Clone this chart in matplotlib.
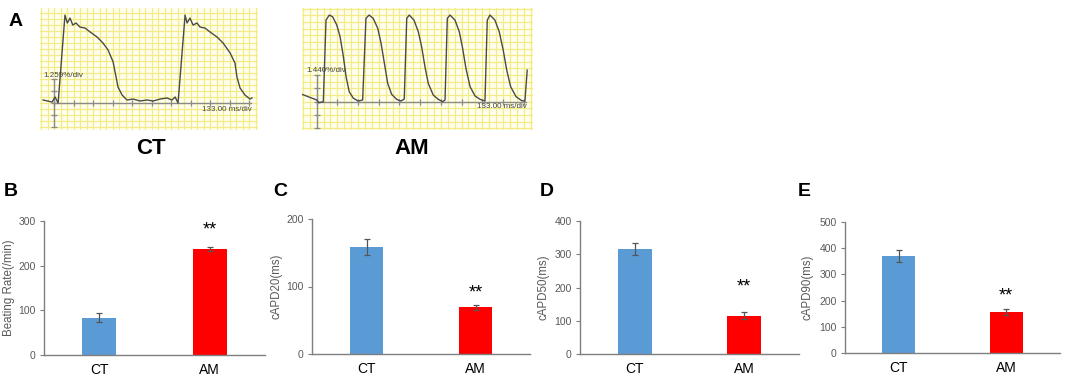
import numpy as np
import matplotlib.pyplot as plt

plt.rcParams['font.family'] = ['Liberation Sans', 'DejaVu Sans']

W, H = 1065, 377

groups = ['CT', 'AM']
bar_colors = ['#5B9BD5', '#FF0000']

beating_rate = [83, 237]
beating_rate_err = [10, 5]
capd20 = [159, 69]
capd20_err = [12, 4]
capd50 = [316, 115]
capd50_err = [17, 11]
capd90 = [370, 156]
capd90_err = [22, 11]
star_heights = [270, 84, 187, 202]

# optical traces, in divisions (x: 133 ms/div, y: %/div)
ct_t = [-0.56, -0.10, 0.05, 0.21, 0.56, 0.68, 0.82, 0.96, 1.13, 1.33, 1.59, 1.85,
        2.21, 2.51, 2.77, 3.03, 3.18, 3.28, 3.49, 3.74, 4.05, 4.41, 4.77, 5.08,
        5.44, 5.79, 6.05, 6.21, 6.36, 6.72, 6.82, 6.97, 7.13, 7.33, 7.49, 7.74,
        8.00, 8.36, 8.67, 9.03, 9.28, 9.38, 9.54, 9.79, 10.05, 10.15]
ct_v = [0.25, 0.08, 0.50, 0.00, 7.33, 6.67, 7.08, 6.50, 6.67, 6.33, 6.25, 5.92,
        5.50, 5.00, 4.42, 3.42, 2.17, 1.33, 0.67, 0.25, 0.33, 0.17, 0.25, 0.17,
        0.33, 0.42, 0.25, 0.50, 0.00, 7.33, 6.67, 7.08, 6.50, 6.67, 6.33, 6.25,
        5.92, 5.50, 5.00, 4.17, 3.33, 2.17, 1.25, 0.67, 0.33, 0.42]

am_t = [-0.72, 0.00, 0.11, 0.32, 0.45, 0.61, 0.77, 0.97, 1.13, 1.29, 1.42, 1.57,
        1.77, 2.01, 2.22, 2.38, 2.53, 2.73, 2.95, 3.11, 3.27, 3.43, 3.62, 3.86,
        4.07, 4.23, 4.35, 4.47, 4.70, 4.91, 5.07, 5.23, 5.39, 5.63, 5.87, 6.09,
        6.20, 6.31, 6.44, 6.68, 6.89, 7.05, 7.21, 7.41, 7.65, 7.89, 8.13, 8.24,
        8.37, 8.61, 8.82, 9.01, 9.18, 9.37, 9.63, 9.90, 10.06, 10.17]
am_v = [0.56, 0.13, -0.08, 0.00, 6.14, 6.52, 6.39, 5.77, 4.89, 3.38, 1.88, 0.75,
        0.26, 0.05, 0.13, 6.27, 6.52, 6.27, 5.52, 4.39, 2.89, 1.38, 0.56, 0.18,
        0.05, 0.20, 6.27, 6.52, 6.14, 5.26, 4.14, 2.63, 1.38, 0.50, 0.18, 0.00,
        0.13, 6.27, 6.52, 6.14, 5.26, 4.02, 2.51, 1.13, 0.43, 0.18, 0.05, 6.14,
        6.52, 6.14, 5.26, 3.89, 2.38, 1.13, 0.38, 0.08, 0.05, 2.38]


def rect(left, top, right, bottom):
    return [left / W, 1 - bottom / H, (right - left) / W, (bottom - top) / H]


fig = plt.figure(figsize=(W / 100, H / 100), dpi=100)


def trace_panel(box, t, v, xlim, ylim, amp_label, amp_pos, time_pos, title, title_xy):
    ax = fig.add_axes(box)
    ax.set_facecolor('#FFFFF0')
    ax.set_xticks(np.arange(-2, 12, 1 / 3))
    ax.set_yticks(np.arange(-3, 9, 0.5))
    ax.grid(True, color='#F3EC86', linewidth=0.9)
    ax.tick_params(length=0, labelbottom=False, labelleft=False)
    for s in ax.spines.values():
        s.set_visible(False)
    # time axis and amplitude scale bar
    ax.plot([0, 10.1], [0, 0], color='#8A8A8A', lw=1.0)
    ax.plot(np.arange(0, 11), np.zeros(11), ls='none', marker='|', ms=4,
            mec='#8A8A8A', mew=0.9)
    ax.plot([0, 0], [-2, 2], color='#8A8A8A', lw=1.0)
    ax.plot(np.zeros(5), np.arange(-2, 3), ls='none', marker='_', ms=4,
            mec='#8A8A8A', mew=0.9)
    ax.plot(t, v, color='#4A4A4A', lw=1.0)
    ax.set_xlim(*xlim)
    ax.set_ylim(*ylim)
    ax.text(amp_pos[0], amp_pos[1], amp_label, fontsize=5.8, color='#444444',
            ha='left', va='center')
    ax.text(time_pos[0], time_pos[1], '133.00 ms/div', fontsize=5.8, color='#444444',
            ha='right', va='center')
    fig.text(title_xy[0] / W, 1 - title_xy[1] / H, title, fontsize=16,
             fontweight='bold', ha='center', va='center')


trace_panel(rect(40, 8, 258, 130), ct_t, ct_v, (-0.72, 10.46), (-2.25, 7.92),
            '1.259%/div', (-0.56, 2.33), (10.15, -0.5), 'CT', (151, 148))
trace_panel(rect(302, 8, 533, 130), am_t, am_v, (-0.71, 10.45), (-2.13, 7.05),
            '1.440%/div', (-0.48, 2.31), (10.14, -0.38), 'AM', (412, 149))


def bar_panel(box, vals, errs, ylabel, ymax, step, star_y, label_x):
    ax = fig.add_axes(box)
    x = np.arange(len(groups))
    ax.bar(x, vals, width=0.31, color=bar_colors, zorder=2)
    ax.errorbar(x, vals, yerr=errs, fmt='none', ecolor='#555555', elinewidth=0.9,
                capsize=2, capthick=0.9, zorder=3)
    ax.set_xticks(x, groups)
    ax.set_yticks(np.arange(0, ymax + 1, step))
    ax.set_xlim(-0.5, 1.5)
    ax.set_ylim(0, ymax)
    for side in ['top', 'right']:
        ax.spines[side].set_visible(False)
    for side in ['left', 'bottom']:
        ax.spines[side].set_color('#7F7F7F')
        ax.spines[side].set_linewidth(1.0)
    ax.tick_params(axis='y', length=3, color='#7F7F7F', labelsize=7.5,
                   labelcolor='#595959', pad=3)
    ax.tick_params(axis='x', length=0, labelsize=10, labelcolor='#000000', pad=6)
    ax.set_ylabel(ylabel, fontsize=8.3, color='#595959')
    ax.yaxis.set_label_coords(label_x, 0.5)
    ax.text(1, star_y, '**', ha='center', va='baseline', fontsize=13)
    return ax


bar_panel(rect(44, 221, 265, 355), beating_rate, beating_rate_err,
          'Beating Rate(/min)', 300, 100, star_heights[0], -0.13)
bar_panel(rect(312, 219, 530, 354), capd20, capd20_err,
          'cAPD20(ms)', 200, 100, star_heights[1], -0.135)
bar_panel(rect(580, 221, 799, 354), capd50, capd50_err,
          'cAPD50(ms)', 400, 100, star_heights[2], -0.14)
bar_panel(rect(845, 222, 1060, 353), capd90, capd90_err,
          'cAPD90(ms)', 500, 100, star_heights[3], -0.148)

# panel letters
for letter, (px, py) in zip('ABCDE', [(15.5, 21), (10.5, 192), (280.5, 192),
                                      (547, 192), (804, 192)]):
    fig.text(px / W, 1 - py / H, letter, fontsize=14, fontweight='bold',
             ha='center', va='center')

fig.savefig('out.png', dpi=100)
